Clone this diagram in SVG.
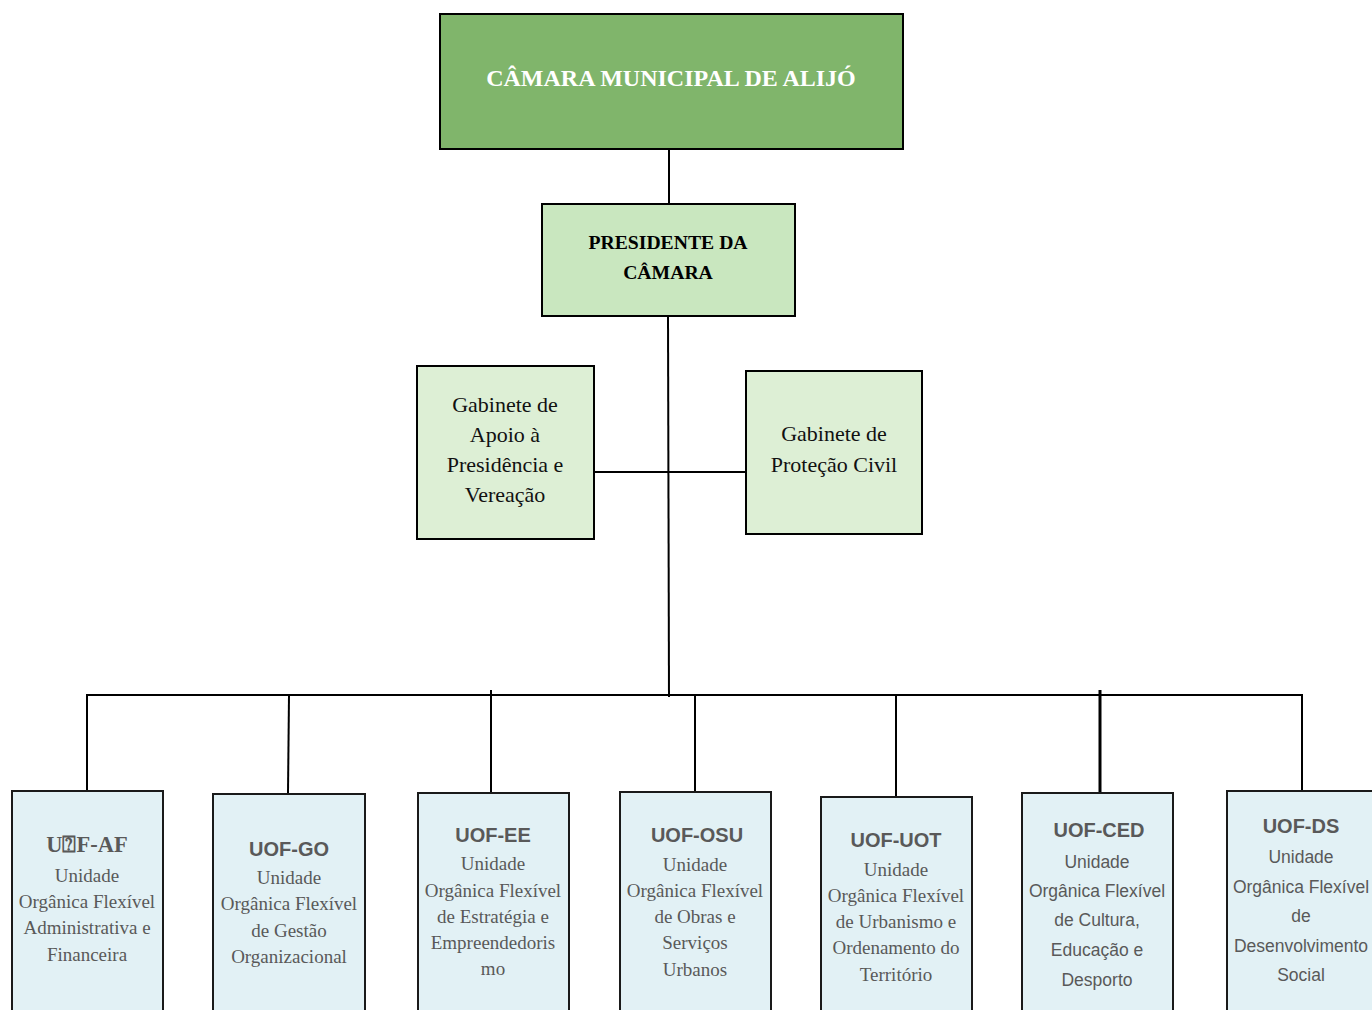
<svg xmlns="http://www.w3.org/2000/svg" width="1372" height="1010" viewBox="0 0 1372 1010">
<style>
.conn line{stroke:#000;stroke-width:2}
.box{stroke:#000;stroke-width:2}
.unit{fill:#E2F1F5;stroke:#1a1a1a;stroke-width:2}
.serif{font-family:"Liberation Serif","DejaVu Serif",serif}
.sans{font-family:"Liberation Sans",Arial,sans-serif}
.t{text-anchor:middle}
.head{font-weight:bold;fill:#595959}
.body{fill:#595959}
</style>
<rect width="1372" height="1010" fill="#fff"/>
<g class="conn" id="connectors">
<line x1="669" y1="149" x2="669" y2="203"/>
<line x1="668" y1="316" x2="669" y2="697"/>
<line x1="594" y1="472" x2="745" y2="472"/>
<line x1="86" y1="695" x2="1303" y2="695"/>
<line x1="87" y1="695" x2="87" y2="790"/>
<line x1="289" y1="695" x2="288" y2="793"/>
<line x1="491" y1="690" x2="491" y2="792"/>
<line x1="695" y1="695" x2="695" y2="791"/>
<line x1="896" y1="695" x2="896" y2="796"/>
<line x1="1100" y1="690" x2="1100" y2="792" style="stroke-width:3"/>
<line x1="1302" y1="695" x2="1302" y2="790"/>
</g>
<g id="camara">
<rect class="box" x="440" y="14" width="463" height="135" fill="#80B56B"/>
<text class="serif t" x="671" y="86" font-size="24" font-weight="bold" fill="#fff">CÂMARA MUNICIPAL DE ALIJÓ</text>
</g>
<g id="presidente">
<rect class="box" x="542" y="204" width="253" height="112" fill="#C9E7BF"/>
<text class="serif t" font-size="19.7" font-weight="bold" fill="#000"><tspan x="668" y="249">PRESIDENTE DA</tspan><tspan x="668" y="279">CÂMARA</tspan></text>
</g>
<g id="gabinete-apoio">
<rect class="box" x="417" y="366" width="177" height="173" fill="#DDEFD5"/>
<text class="serif t" font-size="22" fill="#111"><tspan x="505" y="412">Gabinete de</tspan><tspan x="505" y="442">Apoio à</tspan><tspan x="505" y="472">Presidência e</tspan><tspan x="505" y="502">Vereação</tspan></text>
</g>
<g id="gabinete-protecao">
<rect class="box" x="746" y="371" width="176" height="163" fill="#DDEFD5"/>
<text class="serif t" font-size="22" fill="#111"><tspan x="834" y="441">Gabinete de</tspan><tspan x="834" y="472">Proteção Civil</tspan></text>
</g>
<g id="uof-af">
<rect class="unit" x="12" y="791" width="151" height="230"/>
<text class="serif t head" x="87" y="852" font-size="22.5">U⍰F-AF</text>
<text class="serif t body" font-size="19"><tspan x="87" y="882">Unidade</tspan><tspan x="87" y="908">Orgânica Flexível</tspan><tspan x="87" y="934">Administrativa e</tspan><tspan x="87" y="961">Financeira</tspan></text>
</g>
<g id="uof-go">
<rect class="unit" x="213" y="794" width="152" height="230"/>
<text class="sans t head" x="289" y="856" font-size="20">UOF-GO</text>
<text class="serif t body" font-size="19"><tspan x="289" y="884">Unidade</tspan><tspan x="289" y="910">Orgânica Flexível</tspan><tspan x="289" y="937">de Gestão</tspan><tspan x="289" y="963">Organizacional</tspan></text>
</g>
<g id="uof-ee">
<rect class="unit" x="418" y="793" width="151" height="230"/>
<text class="sans t head" x="493" y="842" font-size="20">UOF-EE</text>
<text class="serif t body" font-size="19"><tspan x="493" y="870">Unidade</tspan><tspan x="493" y="897">Orgânica Flexível</tspan><tspan x="493" y="923">de Estratégia e</tspan><tspan x="493" y="949">Empreendedoris</tspan><tspan x="493" y="975">mo</tspan></text>
</g>
<g id="uof-osu">
<rect class="unit" x="620" y="792" width="151" height="230"/>
<text class="sans t head" x="697" y="842" font-size="20">UOF-OSU</text>
<text class="serif t body" font-size="19"><tspan x="695" y="871">Unidade</tspan><tspan x="695" y="897">Orgânica Flexível</tspan><tspan x="695" y="923">de Obras e</tspan><tspan x="695" y="949">Serviços</tspan><tspan x="695" y="976">Urbanos</tspan></text>
</g>
<g id="uof-uot">
<rect class="unit" x="821" y="797" width="151" height="230"/>
<text class="sans t head" x="896" y="847" font-size="20">UOF-UOT</text>
<text class="serif t body" font-size="19"><tspan x="896" y="876">Unidade</tspan><tspan x="896" y="902">Orgânica Flexível</tspan><tspan x="896" y="928">de Urbanismo e</tspan><tspan x="896" y="954">Ordenamento do</tspan><tspan x="896" y="981">Território</tspan></text>
</g>
<g id="uof-ced">
<rect class="unit" x="1022" y="793" width="151" height="230"/>
<text class="sans t head" x="1099" y="837" font-size="20">UOF-CED</text>
<text class="sans t body" font-size="17.5"><tspan x="1097" y="868">Unidade</tspan><tspan x="1097" y="897">Orgânica Flexível</tspan><tspan x="1097" y="926">de Cultura,</tspan><tspan x="1097" y="956">Educação e</tspan><tspan x="1097" y="986">Desporto</tspan></text>
</g>
<g id="uof-ds">
<rect class="unit" x="1227" y="791" width="160" height="230"/>
<text class="sans t head" x="1301" y="833" font-size="20">UOF-DS</text>
<text class="sans t body" font-size="17.5"><tspan x="1301" y="863">Unidade</tspan><tspan x="1301" y="893">Orgânica Flexível</tspan><tspan x="1301" y="922">de</tspan><tspan x="1301" y="952">Desenvolvimento</tspan><tspan x="1301" y="981">Social</tspan></text>
</g>
</svg>
